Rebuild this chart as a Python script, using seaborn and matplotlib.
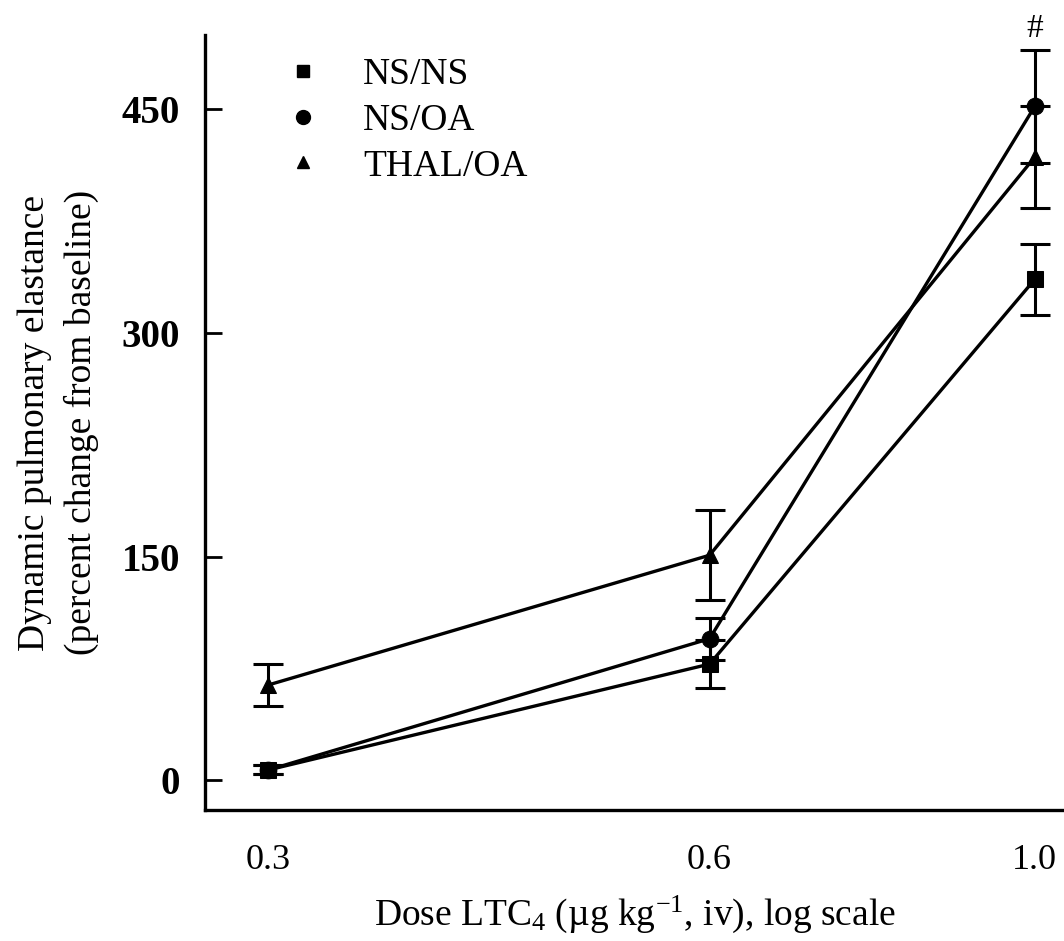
import numpy as np
import pandas as pd
import seaborn as sns
import matplotlib
matplotlib.use("Agg")
import matplotlib.pyplot as plt
from matplotlib.lines import Line2D

# ---- data ----
doses = [0.3, 0.6, 1.0]
groups = ["NS/NS", "NS/OA", "THAL/OA"]
ns_ns = [7, 78, 336]
ns_ns_err = [3, 16, 24]
ns_oa = [7, 95, 452]
ns_oa_err = [3, 14, 38]
thal_oa = [64, 151, 418]
thal_oa_err = [14, 30, 34]
xtick_labels = ["0.3", "0.6", "1.0"]
yticks = [0, 150, 300, 450]

values = {"NS/NS": ns_ns, "NS/OA": ns_oa, "THAL/OA": thal_oa}
errors = {"NS/NS": ns_ns_err, "NS/OA": ns_oa_err, "THAL/OA": thal_oa_err}
markers = {"NS/NS": "s", "NS/OA": "o", "THAL/OA": "^"}

df = pd.DataFrame({
    "dose": doses * 3,
    "value": ns_ns + ns_oa + thal_oa,
    "group": sum([[g] * 3 for g in groups], []),
})

sns.set_theme(style="white")
plt.rcParams["font.family"] = ["Liberation Serif", "DejaVu Serif"]
plt.rcParams["mathtext.fontset"] = "custom"
plt.rcParams["mathtext.rm"] = "Liberation Serif"
plt.rcParams["mathtext.it"] = "Liberation Serif:italic"
plt.rcParams["text.color"] = "black"
plt.rcParams["axes.labelcolor"] = "black"
plt.rcParams["xtick.color"] = "black"
plt.rcParams["ytick.color"] = "black"

fig = plt.figure(figsize=(10.64, 9.41), dpi=100)
ax = fig.add_axes([0.1927, 0.139, 0.8073, 0.824])

for g in groups:
    ax.errorbar(doses, values[g], yerr=errors[g], fmt="none", ecolor="black",
                elinewidth=2.2, capsize=11, capthick=2.2, zorder=2, clip_on=False)

sns.lineplot(data=df, x="dose", y="value", style="group", markers=markers,
             dashes=False, color="black", linewidth=2.4, markersize=12,
             markeredgecolor="black", legend=False, ax=ax, zorder=3, clip_on=False)

ax.set_xscale("log")
ax.set_xlim(0.2716, 1.047)
ax.set_ylim(-20, 500)
ax.set_xticks(doses)
ax.set_xticklabels(xtick_labels)
ax.xaxis.set_minor_locator(matplotlib.ticker.NullLocator())
ax.set_yticks(yticks)
ax.set_yticklabels([str(v) for v in yticks], fontweight="bold")

ax.tick_params(axis="x", length=0, pad=24, labelsize=26)
ax.tick_params(axis="y", direction="in", length=12, width=2, pad=18, labelsize=28,
               left=True)

for s in ["top", "right"]:
    ax.spines[s].set_visible(False)
for s in ["left", "bottom"]:
    ax.spines[s].set_linewidth(2.4)
    ax.spines[s].set_color("black")

ax.set_xlabel(r"Dose LTC$_4$ (µg kg$^{-1}$, iv), log scale", fontsize=27, labelpad=12)
ax.set_ylabel("Dynamic pulmonary elastance\n(percent change from baseline)",
              fontsize=27, labelpad=16, linespacing=1.45)

# significance marker
ax.annotate("#", xy=(1.0, ns_oa[2] + ns_oa_err[2]), xytext=(0, 4),
            textcoords="offset points", ha="center", va="bottom", fontsize=24,
            annotation_clip=False)

handles = [Line2D([], [], linestyle="none", marker=markers[g], color="black",
                  markersize={"NS/NS": 8, "NS/OA": 10, "THAL/OA": 9}[g]) for g in groups]
leg = ax.legend(handles, groups, loc="upper left", bbox_to_anchor=(0.075, 0.99),
                frameon=False, fontsize=27, handlelength=1.0, handletextpad=1.1,
                labelspacing=0.3, borderaxespad=0)

fig.savefig("out.png", dpi=100)
